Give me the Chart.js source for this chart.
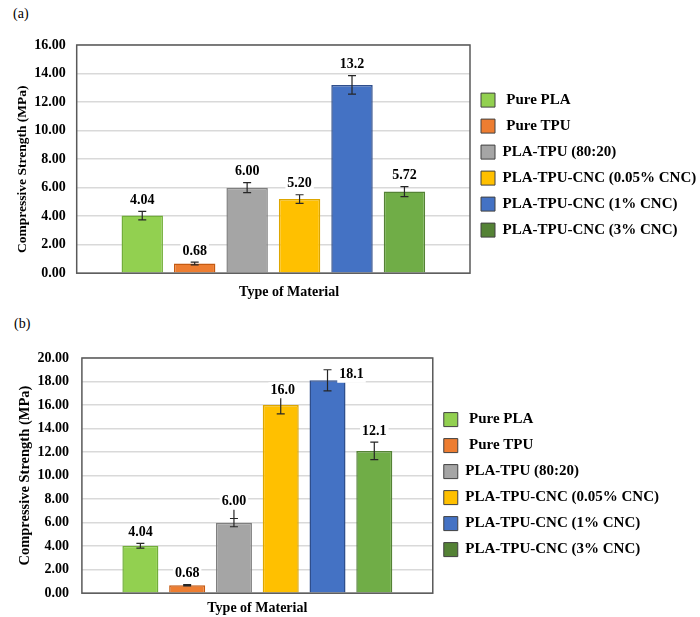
<!DOCTYPE html>
<html>
<head>
<meta charset="utf-8">
<script src="https://cdn.jsdelivr.net/npm/chart.js@4.4.1/dist/chart.umd.min.js"></script>
<style>
  html, body { margin: 0; padding: 0; background: #fff; }
  #page { position: relative; width: 700px; height: 617px; font-family: 'Liberation Serif', 'Times New Roman', serif; }
  .tag { position: absolute; font-size: 14px; color: #000; }
  .holder { position: absolute; left: 0; width: 700px; }
</style>
</head>
<body>
<div id="page">
  <div class="tag" style="left:13px;top:6px">(a)</div>
  <div class="tag" style="left:14px;top:316px">(b)</div>
  <div class="holder" style="top:0;height:305px"><canvas id="chartA"></canvas></div>
  <div class="holder" style="top:305px;height:312px"><canvas id="chartB"></canvas></div>
</div>
<script>
// series names (legend), one bar each
const materials = [' Pure PLA', ' Pure TPU', 'PLA-TPU (80:20)', 'PLA-TPU-CNC (0.05% CNC)', 'PLA-TPU-CNC (1% CNC)', 'PLA-TPU-CNC (3% CNC)'];

// panel (a)
const strengthA = [4.04, 0.68, 6.00, 5.20, 13.2, 5.72];
const errorA = [0.3, 0.1, 0.35, 0.3, 0.65, 0.35];
const yMaxA = 16;

// panel (b)
const strengthB = [4.04, 0.68, 6.00, 16.0, 18.1, 12.1];
const errorB = [0.2, 0.05, 0.35, 0.75, 0.9, 0.75];
const yMaxB = 20;

// colours (Excel office palette)
const fills = ['#92D050', '#ED7D31', '#A5A5A5', '#FFC000', '#4472C4', '#70AD47'];
const edges = ['#72AE3A', '#C55A11', '#7F7F7F', '#DDA600', '#2F4E8C', '#548235'];
const legendFills = ['#92D050', '#ED7D31', '#A5A5A5', '#FFC000', '#4472C4', '#548235'];

Chart.defaults.font.family = "'Liberation Serif', 'Times New Roman', serif";
Chart.defaults.color = '#000';

// error bars, value labels and the frame round the plot
const barExtras = {
  id: 'barExtras',
  afterDatasetsDraw(chart, args, opts) {
    const { ctx, chartArea: a, scales: { y } } = chart;
    ctx.save();
    chart.data.datasets.forEach((ds, i) => {
      const bar = chart.getDatasetMeta(i).data[0];
      const v = ds.data[0], e = opts.errors[i];
      const top = y.getPixelForValue(v + e), bot = y.getPixelForValue(v - e);
      ctx.strokeStyle = '#262626';
      ctx.lineWidth = 1.2;
      ctx.beginPath();
      ctx.moveTo(bar.x, top); ctx.lineTo(bar.x, bot);
      ctx.moveTo(bar.x - 4, top); ctx.lineTo(bar.x + 4, top);
      ctx.moveTo(bar.x - 4, bot); ctx.lineTo(bar.x + 4, bot);
      ctx.stroke();

      const txt = v < 10 ? v.toFixed(2) : v.toFixed(1);
      const sh = (opts.shift && opts.shift[i]) || [0, 0];
      const lx = bar.x + sh[0], ly = top - 11 + sh[1];
      // leader line when the label sits well above its error bar
      if (sh[0] === 0 && top - (ly + 8) >= 5) {
        ctx.beginPath();
        ctx.moveTo(lx, ly + 8); ctx.lineTo(bar.x, top);
        ctx.stroke();
      }
      ctx.font = 'bold 14px ' + Chart.defaults.font.family;
      const w = ctx.measureText(txt).width;
      ctx.fillStyle = '#fff';
      ctx.fillRect(lx - w / 2 - 2, ly - 8, w + 4, 16);
      ctx.fillStyle = '#000';
      ctx.textAlign = 'center';
      ctx.textBaseline = 'middle';
      ctx.fillText(txt, lx, ly);
    });
    ctx.strokeStyle = '#595959';
    ctx.lineWidth = 1.5;
    ctx.strokeRect(a.left, a.top, a.right - a.left, a.bottom - a.top);
    ctx.restore();
  }
};

function makeChart(id, values, errors, yMax, look) {
  return new Chart(document.getElementById(id), {
    type: 'bar',
    data: {
      labels: [''],
      datasets: materials.map((m, i) => ({
        label: m,
        data: [values[i]],
        backgroundColor: fills[i],
        borderColor: edges[i],
        borderWidth: 1.5,
        categoryPercentage: 0.8,
        barPercentage: look.barPct
      }))
    },
    options: {
      responsive: true,
      maintainAspectRatio: false,
      animation: false,
      events: [],
      layout: { padding: look.pad },
      scales: {
        x: {
          grid: { display: false, drawTicks: false },
          border: { display: false },
          ticks: { display: false },
          title: { display: true, text: look.xTitle, font: { weight: 'bold', size: 14 }, padding: { top: look.xTitlePad, bottom: 0 } }
        },
        y: {
          min: 0,
          max: yMax,
          grid: { color: '#D9D9D9', lineWidth: 1.5, drawTicks: false },
          border: { display: false },
          ticks: { stepSize: 2, padding: look.tickPad, font: { weight: 'bold', size: 14 }, callback: v => v.toFixed(2) },
          title: { display: true, text: look.yTitle, font: { weight: 'bold', size: look.yTitleSize }, padding: look.yTitlePad }
        }
      },
      plugins: {
        tooltip: { enabled: false },
        legend: {
          position: 'right',
          align: 'center',
          fullSize: false,
          maxWidth: look.legendMax,
          title: { display: true, text: ' ', font: { size: look.legendNudge }, padding: 0 },
          labels: {
            boxWidth: 14,
            boxHeight: 14,
            padding: 11,
            font: { weight: 'bold', size: 15 },
            generateLabels: chart => chart.data.datasets.map((ds, i) => ({
              text: ds.label,
              fillStyle: legendFills[i],
              strokeStyle: '#404040',
              lineWidth: 1,
              hidden: false,
              datasetIndex: i
            }))
          }
        },
        barExtras: { errors: errors, shift: look.shift }
      }
    },
    plugins: [barExtras]
  });
}

makeChart('chartA', strengthA, errorA, yMaxA, {
  barPct: 0.79,
  pad: { top: 45, left: 8, right: 0, bottom: 4 },
  xTitle: '         Type of Material',
  xTitlePad: 11,
  tickPad: 11,
  yTitle: 'Compressive Strength (MPa)      ',
  yTitleSize: 13.5,
  yTitlePad: { top: 6, bottom: -7 },
  legendMax: 230,
  legendNudge: 10
});

makeChart('chartB', strengthB, errorB, yMaxB, {
  barPct: 0.77,
  pad: { top: 53, left: 11, right: 31, bottom: 0 },
  xTitle: 'Type of Material',
  xTitlePad: 7,
  tickPad: 13,
  yTitle: 'Compressive Strength (MPa)',
  yTitleSize: 14.5,
  yTitlePad: { top: 6, bottom: -10 },
  legendMax: 300,
  legendNudge: 15,
  shift: [[0, 0], [0, 0], [0, -6], [2, 5], [24, 16], [0, 0]]
});
</script>
</body>
</html>
